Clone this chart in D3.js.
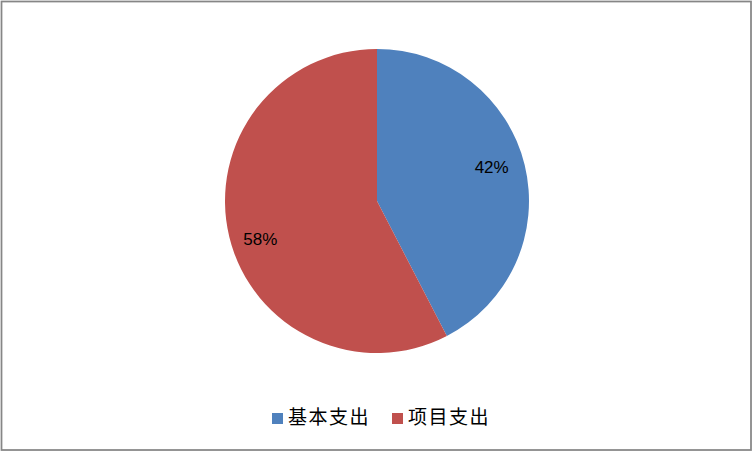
<!DOCTYPE html>
<html><head><meta charset="utf-8">
<script src="https://cdn.jsdelivr.net/npm/d3@7"></script>
<style>html,body{margin:0;padding:0;background:#fff;}svg{display:block;}</style>
</head><body>
<script>
const categories = ["基本支出", "项目支出"];
const values = [42.4, 57.6];
const colors = ["#4F81BD", "#C0504D"];

const W = 753, H = 451;
const svg = d3.select("body").append("svg").attr("width", W).attr("height", H);
svg.append("rect").attr("x", 1.5).attr("y", 1.5).attr("width", 749.5).attr("height", 448.5)
  .attr("fill", "#fff").attr("stroke", "#868686").attr("stroke-width", 1.75);

const cx = 377, cy = 201, r = 152;
const data = categories.map((c, i) => ({cat: c, v: values[i], col: colors[i]}));
const pie = d3.pie().value(d => d.v).sort(null);
const arc = d3.arc().innerRadius(0).outerRadius(r);
const labelArc = d3.arc().innerRadius(r * 0.79).outerRadius(r * 0.79);
const labelShift = [[-2, -5], [0, 10]];
const total = d3.sum(values);
const g = svg.append("g").attr("transform", `translate(${cx},${cy})`);
const arcs = pie(data);
g.selectAll("path").data(arcs).join("path").attr("d", arc).attr("fill", d => d.data.col);
g.selectAll("text").data(arcs).join("text")
  .attr("transform", (d, i) => {
    const [x, y] = labelArc.centroid(d);
    return `translate(${x + labelShift[i][0]},${y + labelShift[i][1]})`;
  })
  .attr("text-anchor", "middle").attr("dominant-baseline", "central")
  .attr("font-family", "Liberation Sans, Arial, sans-serif").attr("font-size", 17)
  .attr("fill", "#000")
  .text(d => Math.round(d.data.v / total * 100) + "%");

const legend = svg.append("g");
const lx = [272, 392];
data.forEach((d, i) => {
  legend.append("rect").attr("x", lx[i]).attr("y", 413).attr("width", 11).attr("height", 11).attr("fill", d.col);
  legend.append("text").attr("x", lx[i] + 16).attr("y", 415.5)
    .attr("dominant-baseline", "central")
    .attr("font-family", "Noto Sans CJK SC, sans-serif").attr("font-size", 19)
    .attr("letter-spacing", 1.5).attr("fill", "#000").text(d.cat);
});
</script>
</body></html>
